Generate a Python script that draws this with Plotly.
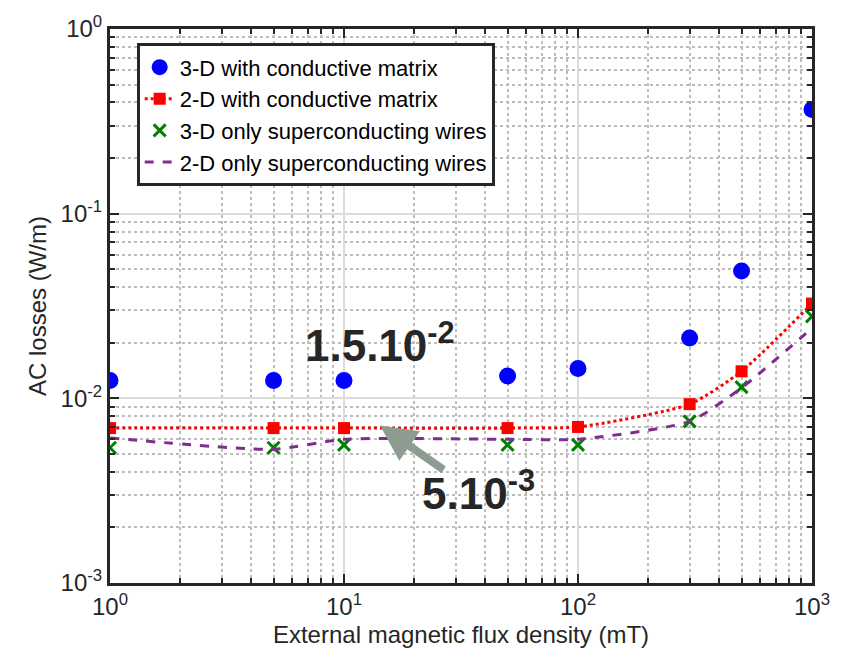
import plotly.graph_objects as go

# Applied field (mT)
field_mT = [1, 5, 10, 50, 100, 300, 500, 1000]

# AC losses (W/m) for each model
loss_3d_matrix = [0.0125, 0.0125, 0.0125, 0.0132, 0.0145, 0.0212, 0.0489, 0.366]
loss_2d_matrix = [0.0069, 0.0069, 0.0069, 0.0069, 0.0070, 0.0093, 0.0140, 0.0326]
loss_3d_wires = [0.0054, 0.0054, 0.0056, 0.0056, 0.0056, 0.0075, 0.0115, 0.0278]
loss_2d_wires = [0.0061, 0.0053, 0.0060, 0.0060, 0.0060, 0.0075, 0.0114, 0.0240]

x_tickvals = [1, 10, 100, 1000]
x_ticktext = ["10<sup>0</sup>", "10<sup>1</sup>", "10<sup>2</sup>", "10<sup>3</sup>"]
y_tickvals = [0.001, 0.01, 0.1, 1]
y_ticktext = ["10<sup>-3</sup>", "10<sup>-2</sup>", "10<sup>-1</sup>", "10<sup>0</sup>"]

# minor grid positions: 2..9 within each decade
x_minor = [m * 10 ** e for e in range(0, 3) for m in range(2, 10)]
y_minor = [m * 10.0 ** e for e in range(-3, 0) for m in range(2, 10)]

font_family = "Liberation Sans, Arial, sans-serif"

fig = go.Figure()

fig.add_trace(go.Scatter(
    x=field_mT, y=loss_3d_matrix, mode="markers",
    name="3-D with conductive matrix",
    marker=dict(symbol="circle", size=17, color="#0000ff"),
))
fig.add_trace(go.Scatter(
    x=field_mT, y=loss_2d_matrix, mode="lines+markers",
    name="2-D with conductive matrix",
    line=dict(color="#ff0000", width=3, dash="dot", shape="spline", smoothing=0.6),
    marker=dict(symbol="square", size=12, color="#ff0000"),
))
fig.add_trace(go.Scatter(
    x=field_mT, y=loss_3d_wires, mode="markers",
    name="3-D only superconducting wires",
    marker=dict(symbol="x-thin", size=12, color="#008000",
                line=dict(width=3, color="#008000")),
))
fig.add_trace(go.Scatter(
    x=field_mT, y=loss_2d_wires, mode="lines",
    name="2-D only superconducting wires",
    line=dict(color="#7e2f8e", width=3, dash="dash", shape="spline", smoothing=0.6),
))

axis_common = dict(
    type="log",
    showline=True, linecolor="#262626", linewidth=3, mirror="ticks",
    ticks="inside", ticklen=9, tickwidth=2, tickcolor="#262626",
    showgrid=True, gridcolor="#dcdcdc", gridwidth=2,
    zeroline=False,
    tickfont=dict(family=font_family, size=24, color="#262626"),
    title_font=dict(family=font_family, size=24, color="#262626"),
)
minor_common = dict(ticks="inside", ticklen=5, tickwidth=2, tickcolor="#262626",
                    showgrid=True, gridcolor="#bdbdbd", gridwidth=2, griddash="dot")

fig.update_xaxes(
    **axis_common,
    range=[0, 3],
    tickvals=x_tickvals, ticktext=x_ticktext,
    minor=dict(tickmode="array", tickvals=x_minor, **minor_common),
    title_text="External magnetic flux density (mT)",
    title_standoff=8,
)
fig.update_yaxes(
    **axis_common,
    range=[-3, 0],
    tickvals=y_tickvals, ticktext=y_ticktext,
    minor=dict(tickmode="array", tickvals=y_minor, **minor_common),
    title_text="AC losses (W/m)",
    title_standoff=8,
)

# Callout labels with arrow
fig.add_annotation(
    x=1.154, y=-1.70, xref="x", yref="y",
    text="<b>1.5.10<sup>-2</sup></b>", showarrow=False,
    font=dict(family=font_family, size=44, color="#262626"),
)
fig.add_annotation(
    x=1.575, y=-2.50, xref="x", yref="y",
    text="<b>5.10<sup>-3</sup></b>", showarrow=False,
    font=dict(family=font_family, size=44, color="#262626"),
)
fig.add_annotation(
    x=1.154, y=-2.147, xref="x", yref="y",
    ax=1.432, ay=-2.392, axref="x", ayref="y",
    text="", showarrow=True, arrowhead=2, arrowsize=0.9, arrowwidth=8,
    arrowcolor="#8c9c90",
)

fig.update_layout(
    width=843, height=665,
    margin=dict(l=110, r=31, t=20, b=82),
    paper_bgcolor="white", plot_bgcolor="white",
    font=dict(family=font_family, color="#262626"),
    showlegend=True,
    legend=dict(
        x=0.038, y=0.974, xanchor="left", yanchor="top",
        bgcolor="white", bordercolor="#262626", borderwidth=3,
        font=dict(family=font_family, size=22, color="#000000"),
        itemwidth=30, tracegroupgap=0,
    ),
)

fig.write_html("out.html")
